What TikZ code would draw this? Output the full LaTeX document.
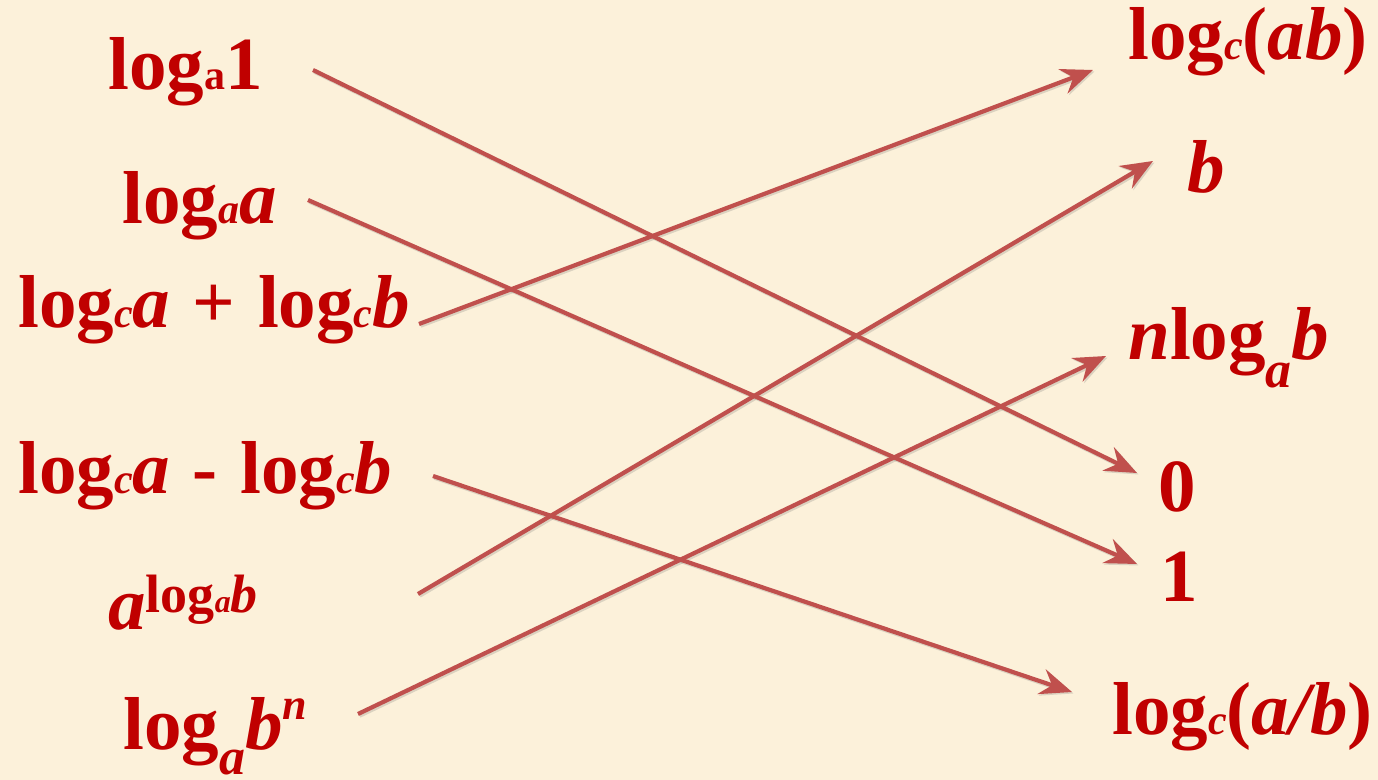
\documentclass[tikz,border=0pt]{standalone}
\usepackage{fontspec}
\setmainfont{Liberation Serif}
\usetikzlibrary{arrows.meta}
\definecolor{bgcream}{HTML}{FCF1DA}
\definecolor{txtred}{HTML}{C00000}
\definecolor{arrred}{HTML}{C0504D}
\newcommand\smsub[1]{{\fontsize{21}{21}\selectfont #1}}
\newcommand\isub[1]{{\fontsize{21}{21}\selectfont\itshape #1}}
\newcommand\lowsub[1]{\raisebox{-14pt}{\fontsize{26}{26}\selectfont\itshape #1}}
\newcommand\lowsubb[1]{\raisebox{-12.5pt}{\fontsize{26}{26}\selectfont\itshape #1}}
\tikzset{
  lbl/.style={anchor=base west, inner sep=0pt, text=txtred,
    font=\bfseries\fontsize{37.5}{40}\selectfont},
  conn/.style={draw=arrred, line width=2.1pt,
    -{Stealth[length=16pt,width=13pt,inset=5.5pt]}},
  connshadow/.style={draw=black!60, opacity=0.22, line width=2.3pt,
    -{Stealth[length=16pt,width=13pt,inset=5.5pt]}}
}
\begin{document}
\begin{tikzpicture}[x=0.5pt,y=-0.5pt]
\fill[bgcream] (0,0) rectangle (1378,780);
\useasboundingbox (0,0) rectangle (1378,780);
% left column
\node[lbl] (l1) at (108,90) {log\smsub{a}1};
\node[lbl] (l2) at (122,224) {log\isub{a}\textit{a}};
\node[lbl] (l3) at (18,328) {log\isub{c}\textit{a}\hspace{0.3em}+\hspace{0.3em}log\isub{c}\textit{b}};
\node[lbl] (l4) at (18,494) {log\isub{c}\textit{a}\hspace{0.3em}-\hspace{0.3em}log\isub{c}\textit{b}};
\node[lbl] (l5) at (108,630) {\textit{a}\raisebox{8.5pt}{\fontsize{27}{27}\selectfont log{\fontsize{16}{16}\selectfont\itshape a}\textit{b}}};
\node[lbl] (l6) at (123,750) {log\lowsubb{a}\textit{b}\raisebox{15pt}{\fontsize{22}{22}\selectfont\itshape n}};
% right column
\node[lbl] (r1) at (1128,60) {log\isub{c}(\textit{ab})};
\node[lbl] (r2) at (1187,193) {\textit{b}};
\node[lbl] (r3) at (1128,360) {\textit{n}log\lowsub{a}\textit{b}};
\node[lbl] (r4) at (1158,512) {0};
\node[lbl] (r5) at (1160,602) {1};
\node[lbl] (r6) at (1112,735) {log\isub{c}(\textit{a/b})};
% connector ends
\coordinate (s1) at (313,70);   \coordinate (e1) at (1137,473);
\coordinate (s2) at (308,200);  \coordinate (e2) at (1137,564);
\coordinate (s3) at (419,324);  \coordinate (e3) at (1093,70);
\coordinate (s4) at (433,476);  \coordinate (e4) at (1072,692);
\coordinate (s5) at (418,594);  \coordinate (e5) at (1153,161);
\coordinate (s6) at (358,714);  \coordinate (e6) at (1106,356);
\foreach \i in {1,...,6}{
  \draw[connshadow] ([shift={(1.5,1.5)}]s\i) -- ([shift={(1.5,1.5)}]e\i);
}
\foreach \i in {1,...,6}{
  \draw[conn] (s\i) -- (e\i);
}
\end{tikzpicture}
\end{document}
